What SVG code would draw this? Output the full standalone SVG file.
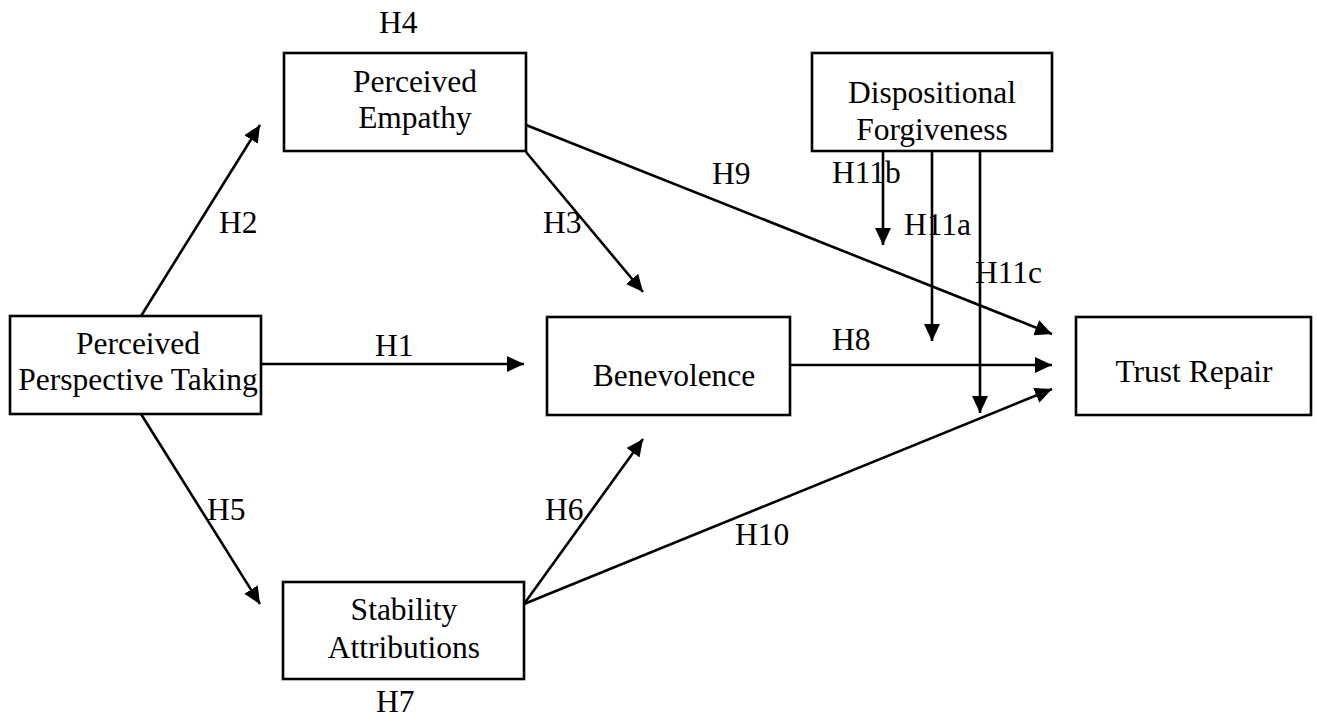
<svg xmlns="http://www.w3.org/2000/svg" width="1317" height="719" viewBox="0 0 1317 719">
  <style>
    .box { fill: #ffffff; stroke: #000000; stroke-width: 2.6; }
    .lbl { font-family: "Liberation Serif", "Times New Roman", serif; font-size: 31.5px; fill: #000000; }
    .mid { text-anchor: middle; }
    .link { stroke: #000000; stroke-width: 2.6; fill: none; marker-end: url(#head); }
  </style>
  <defs>
    <marker id="head" markerUnits="userSpaceOnUse" markerWidth="18" markerHeight="18" viewBox="0 0 18 18" refX="17" refY="9" orient="auto">
      <path d="M0,1 L17,9 L0,17 z" fill="#000000"/>
    </marker>
  </defs>

  <rect width="1317" height="719" fill="#ffffff"/>

  <!-- paths between constructs -->
  <g id="connectors">
    <line class="link" x1="262" y1="364" x2="524" y2="364"/>
    <line class="link" x1="141" y1="316" x2="260" y2="125"/>
    <line class="link" x1="141" y1="414" x2="260" y2="604"/>
    <line class="link" x1="526" y1="152" x2="643" y2="292"/>
    <line class="link" x1="526" y1="125" x2="1052" y2="334"/>
    <line class="link" x1="790" y1="365" x2="1052" y2="365"/>
    <line class="link" x1="524" y1="604" x2="643" y2="439"/>
    <line class="link" x1="524" y1="604" x2="1052" y2="389"/>
    <line class="link" x1="883" y1="151" x2="883" y2="245"/>
    <line class="link" x1="932" y1="151" x2="932" y2="341"/>
    <line class="link" x1="980" y1="151" x2="980" y2="413"/>
    <g class="lbl">
      <text x="379" y="33">H4</text>
      <text x="219" y="233">H2</text>
      <text x="375" y="356">H1</text>
      <text x="543" y="233">H3</text>
      <text x="712" y="184">H9</text>
      <text x="832" y="350">H8</text>
      <text x="207" y="520">H5</text>
      <text x="545" y="520">H6</text>
      <text x="735" y="545">H10</text>
      <text x="376" y="712">H7</text>
      <text x="832" y="183">H11b</text>
      <text x="904" y="235">H11a</text>
      <text x="975" y="283">H11c</text>
    </g>
  </g>

  <g id="perceived-perspective-taking">
    <rect class="box" x="10" y="316" width="251" height="98"/>
    <text class="lbl mid" x="138" y="354">Perceived</text>
    <text class="lbl mid" x="138" y="390">Perspective Taking</text>
  </g>

  <g id="perceived-empathy">
    <rect class="box" x="284" y="53" width="242" height="98"/>
    <text class="lbl mid" x="415" y="92">Perceived</text>
    <text class="lbl mid" x="415" y="128">Empathy</text>
  </g>

  <g id="dispositional-forgiveness">
    <rect class="box" x="812" y="53" width="240" height="98"/>
    <text class="lbl mid" x="932" y="103">Dispositional</text>
    <text class="lbl mid" x="932" y="140">Forgiveness</text>
  </g>

  <g id="benevolence">
    <rect class="box" x="547" y="317" width="243" height="98"/>
    <text class="lbl mid" x="674" y="386">Benevolence</text>
  </g>

  <g id="trust-repair">
    <rect class="box" x="1076" y="317" width="235" height="98"/>
    <text class="lbl mid" x="1194" y="382">Trust Repair</text>
  </g>

  <g id="stability-attributions">
    <rect class="box" x="283" y="582" width="241" height="97"/>
    <text class="lbl mid" x="404" y="620">Stability</text>
    <text class="lbl mid" x="404" y="658">Attributions</text>
  </g>
</svg>
